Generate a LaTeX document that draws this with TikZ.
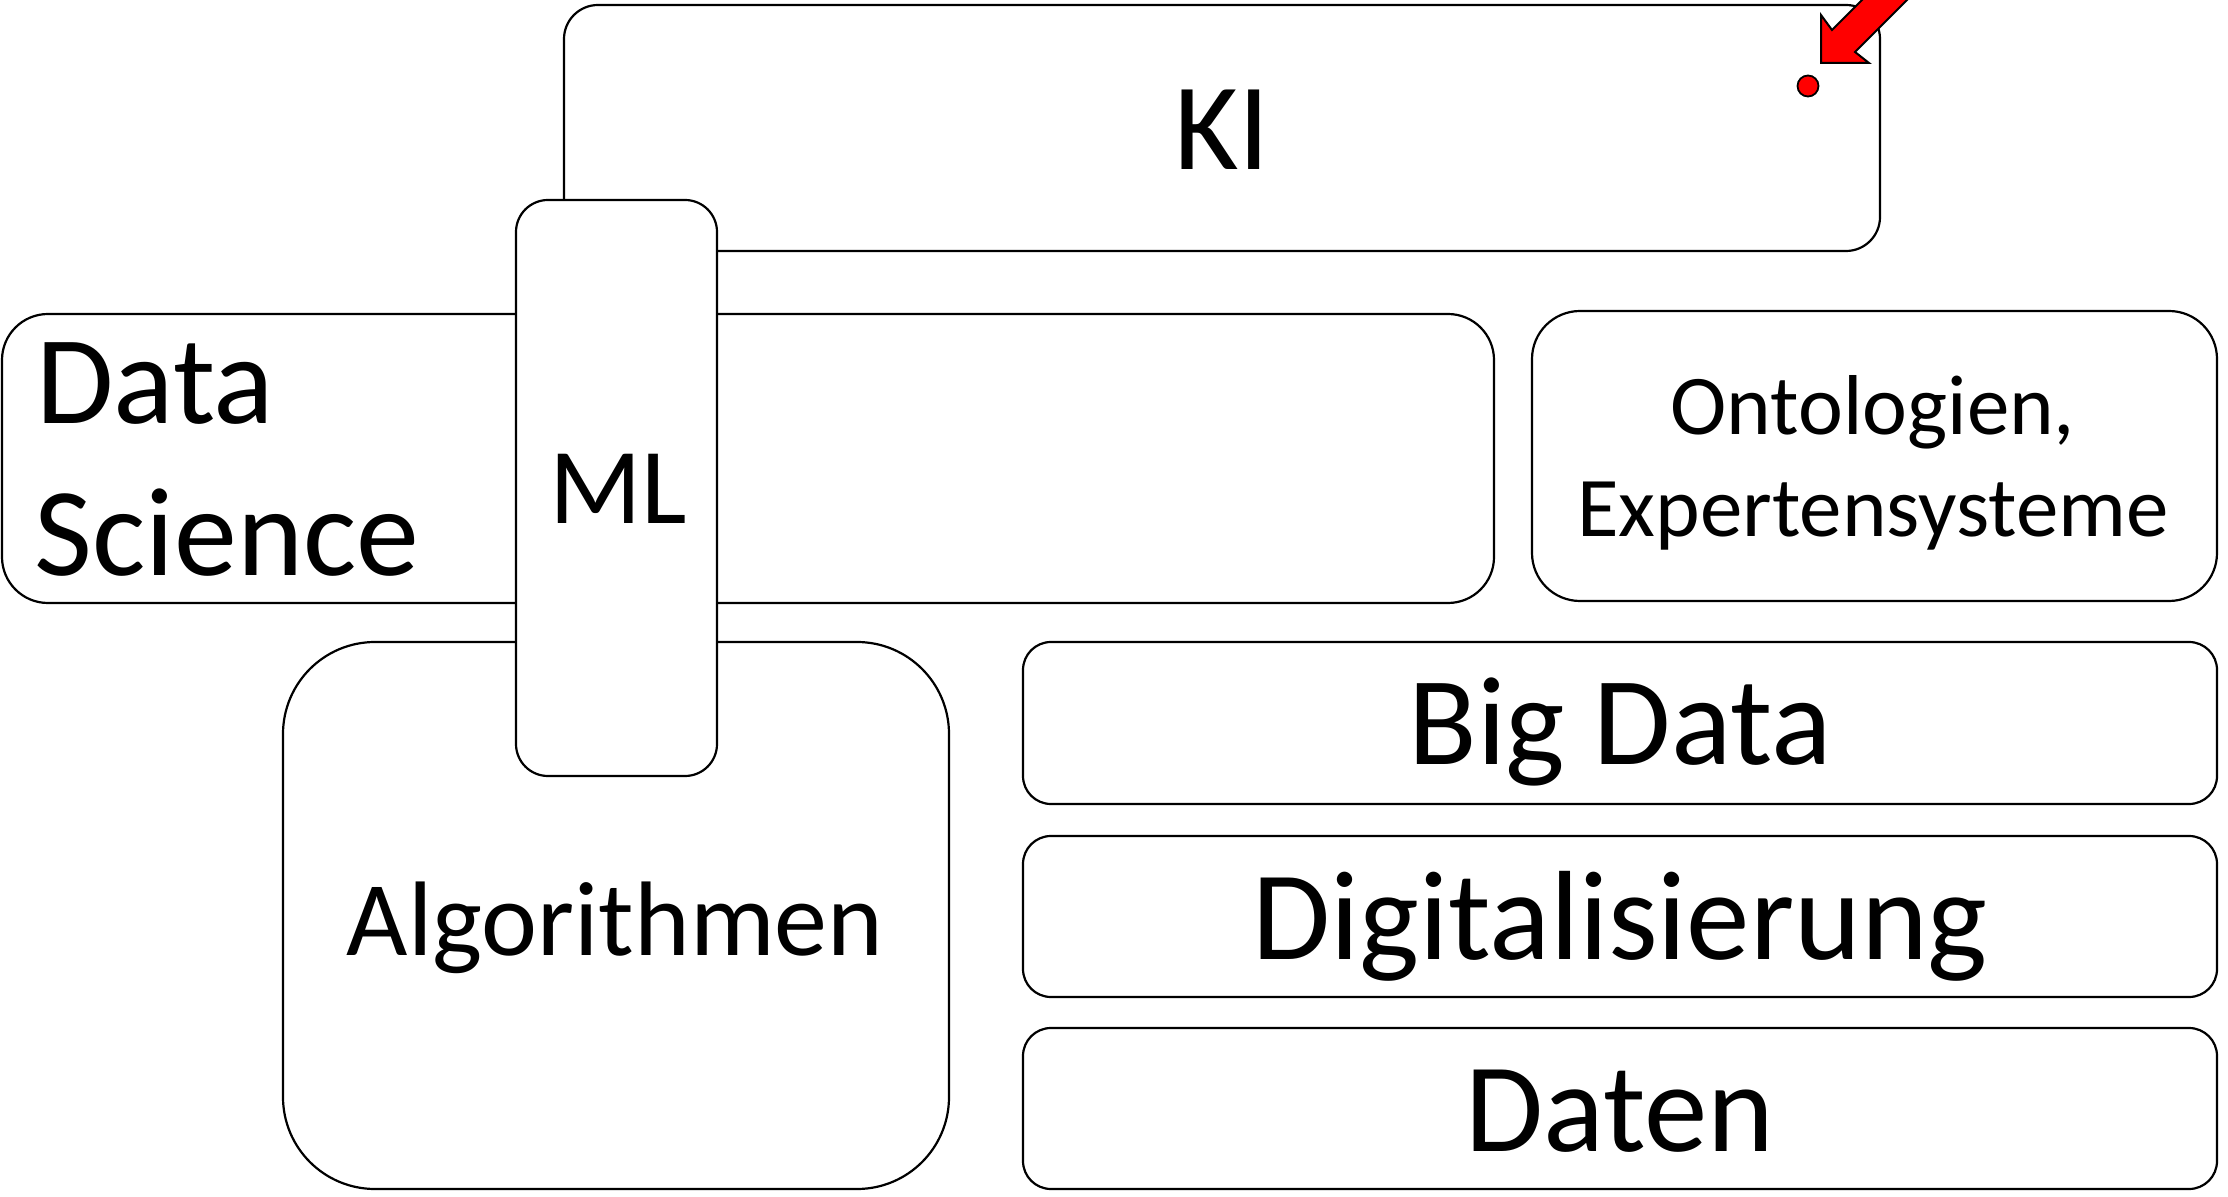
\documentclass[tikz,border=0pt]{standalone}
\usepackage{fontspec}
\setmainfont{Carlito}
\newcommand\rbox[6]{\node[boxstyle, rounded corners=#6, minimum width={(#4-#2)*0.5pt}, minimum height={(#5-#3)*0.5pt}] (#1) at ({(#2+#4)/2},{(#3+#5)/2}) {};}
\begin{document}
\begin{tikzpicture}[x=0.5pt,y=-0.5pt,
  boxstyle/.style={draw=black, line width=1.1pt, fill=white, inner sep=0pt},
  lbl/.style={inner sep=0pt, anchor=base}]
\useasboundingbox (0,0) rectangle (2228,1197);
\clip (0,0) rectangle (2228,1197);
\rbox{ki}{564}{5}{1880}{251}{17pt}
\rbox{ds}{2}{314}{1494}{603}{23pt}
\rbox{onto}{1532}{311}{2217}{601}{24pt}
\rbox{alg}{283}{642}{949}{1189}{46pt}
\rbox{bd}{1023}{642}{2217}{804}{14pt}
\rbox{dig}{1023}{836}{2217}{997}{14pt}
\rbox{dat}{1023}{1028}{2217}{1189}{14pt}
\rbox{ml}{516}{200}{717}{776}{16pt}
\node[lbl, font=\fontsize{62}{72}\selectfont] (kit) at (1222,170) {KI};
\node[lbl, font=\fontsize{63}{76}\selectfont, anchor=base west] (dst1) at (36,424) {Data};
\node[lbl, font=\fontsize{63}{76}\selectfont, anchor=base west] (dst2) at (34,576) {Science};
\node[lbl, font=\fontsize{54}{62}\selectfont] (mlt) at (618,524) {ML};
\node[lbl, font=\fontsize{42.5}{51}\selectfont] (ont1) at (1873,435) {Ontologien,};
\node[lbl, font=\fontsize{42.5}{51}\selectfont] (ont2) at (1873,537) {Expertensysteme};
\node[lbl, font=\fontsize{63}{72}\selectfont] (bdt) at (1620,764) {Big Data};
\node[lbl, font=\fontsize{63.5}{72}\selectfont] (digt) at (1620,959) {Digitalisierung};
\node[lbl, font=\fontsize{63.5}{72}\selectfont] (datt) at (1620,1151) {Daten};
\node[lbl, font=\fontsize{53}{64}\selectfont] (algt) at (615,955) {Algorithmen};
\draw[line width=1pt, fill=red, line join=miter] (1821,63) -- (1821,15) -- (1832,30) -- (1900,-38) -- (1923,-16) -- (1855,52) -- (1869,63) -- cycle;
\node[circle, draw=black, line width=0.9pt, fill=red, inner sep=0pt, minimum size=10.5pt] (dot) at (1808,86) {};
\end{tikzpicture}
\end{document}
